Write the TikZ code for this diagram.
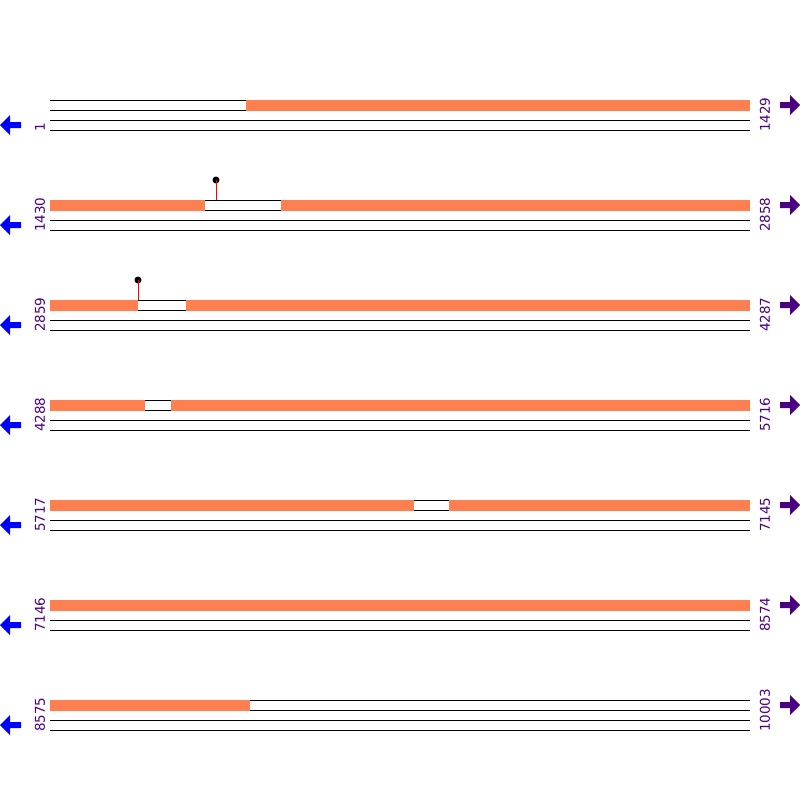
\documentclass[tikz,border=0pt]{standalone}
\usepackage{fontspec}
\setmainfont{DejaVu Sans}
\definecolor{coral}{HTML}{FF7F50}
\definecolor{indigo}{HTML}{4B0082}
\begin{document}
\begin{tikzpicture}[x=1pt,y=-1pt,
every node/.style={font=\fontsize{13.5}{16}\selectfont},
strand/.style={draw=black,line width=1pt},
cover/.style={fill=coral},
numlabel/.style={rotate=90,anchor=west,inner sep=0pt,text=indigo},
backarrow/.style={fill=blue},
fwdarrow/.style={fill=indigo},
pin/.style={draw=red,line width=1pt},
pinhead/.style={circle,fill=black,inner sep=0pt,minimum size=7pt}]
\useasboundingbox (0,0) rectangle (800,800);
\foreach \y/\a/\b [count=\i] in {100/1/1429,200/1430/2858,300/2859/4287,400/4288/5716,500/5717/7145,600/7146/8574,700/8575/10003}{
  \foreach \d in {0,10,20,30}
    \draw[strand] (50,\y+\d) -- (750,\y+\d);
  \node[numlabel] (start\i) at (40,\y+32) {\a};
  \node[numlabel] (end\i) at (765,\y+32) {\b};
  \fill[backarrow] (0,\y+25) -- (10,\y+15) -- (10,\y+22) -- (21,\y+22) -- (21,\y+28) -- (10,\y+28) -- (10,\y+35) -- cycle;
  \fill[fwdarrow] (800,\y+5) -- (790,\y-5) -- (790,\y+2) -- (780,\y+2) -- (780,\y+8) -- (790,\y+8) -- (790,\y+15) -- cycle;
}
\fill[cover] (246,99.5) rectangle (750,110.5);
\fill[cover] (50,199.5) rectangle (205,210.5);
\fill[cover] (281,199.5) rectangle (750,210.5);
\fill[cover] (50,299.5) rectangle (138,310.5);
\fill[cover] (186,299.5) rectangle (750,310.5);
\fill[cover] (50,399.5) rectangle (145,410.5);
\fill[cover] (171,399.5) rectangle (750,410.5);
\fill[cover] (50,499.5) rectangle (414,510.5);
\fill[cover] (449,499.5) rectangle (750,510.5);
\fill[cover] (50,599.5) rectangle (750,610.5);
\fill[cover] (50,699.5) rectangle (250,710.5);
\node[pinhead] (snp1) at (216,180) {};
\node[pinhead] (snp2) at (138,280) {};
\coordinate (site1) at (216,199.5);
\coordinate (site2) at (138,299.5);
\draw[pin] (snp1.center) -- (site1);
\draw[pin] (snp2.center) -- (site2);
\end{tikzpicture}
\end{document}
